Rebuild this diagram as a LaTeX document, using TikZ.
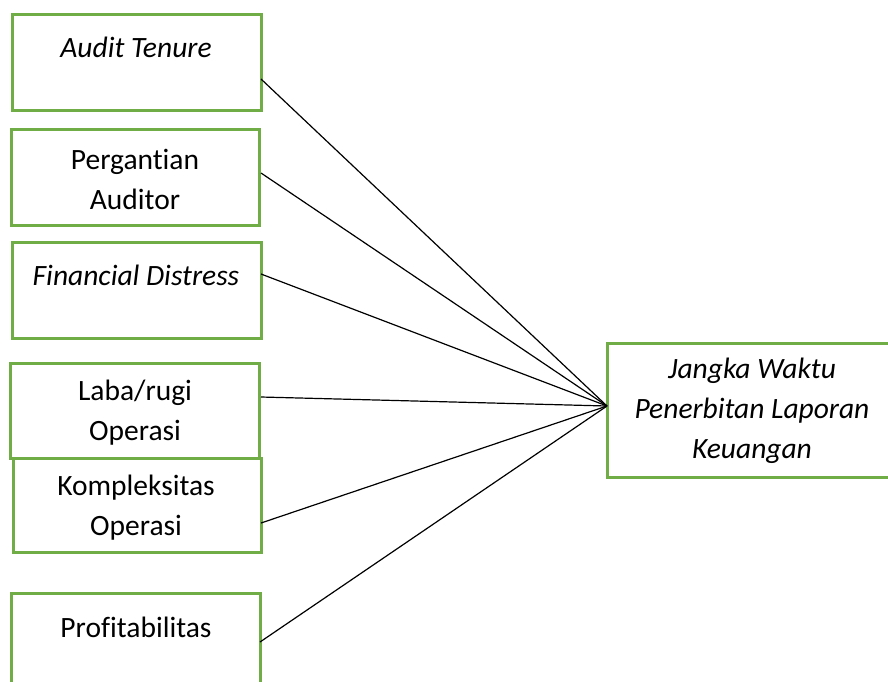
\documentclass[tikz,border=0pt]{standalone}
\usepackage{fontspec}
\setmainfont[Ligatures={NoCommon}]{Carlito}
\definecolor{boxgreen}{RGB}{112,173,71}
\begin{document}
\begin{tikzpicture}[x=1pt,y=-1pt,
  box/.style={draw=boxgreen, line width=3pt, rectangle, anchor=north west, inner sep=0pt, outer sep=0pt},
  txt/.style={font=\fontsize{29.5}{40}\selectfont, align=center, inner sep=0pt},
  link/.style={draw=black, line width=1.2pt}]
\useasboundingbox (0,0) rectangle (888,681);
\clip (0,0) rectangle (888,681);
% boxes
\node[box, minimum width=249pt, minimum height=96pt] (b1) at (12,14) {};
\node[box, minimum width=248pt, minimum height=96pt] (b2) at (11,129) {};
\node[box, minimum width=249pt, minimum height=96pt] (b3) at (12,242) {};
\node[box, minimum width=249pt, minimum height=95pt] (b4) at (10,363) {};
\node[box, minimum width=248pt, minimum height=94pt] (b5) at (13,458) {};
\node[box, minimum width=249pt, minimum height=110pt] (b6) at (11,593) {};
\node[box, minimum width=290pt, minimum height=134pt] (y) at (607,343) {};
% texts
\node[txt] (t1) at (136,47) {\itshape Audit Tenure};
\node[txt] (t2) at (135,179) {Pergantian\\Auditor};
\node[txt] (t3) at (136,275) {\itshape Financial Distress};
\node[txt] (t4) at (135,413) {Laba/rugi\\Operasi};
\node[txt] (t5) at (136,508) {Kompleksitas\\Operasi};
\node[txt] (t6) at (136,627) {Profitabilitas};
\node[txt] (ty) at (752,411) {\itshape Jangka Waktu\\\itshape Penerbitan Laporan\\\itshape Keuangan};
% connector ends
\coordinate (p1) at (261,79);
\coordinate (p2) at (261,173);
\coordinate (p3) at (261,274);
\coordinate (p4) at (261,397);
\coordinate (p5) at (261,523);
\coordinate (p6) at (260,642);
\coordinate (q) at (607,406);
\foreach \i in {1,...,6}{\draw[link] (p\i) -- (q);}
\end{tikzpicture}
\end{document}
